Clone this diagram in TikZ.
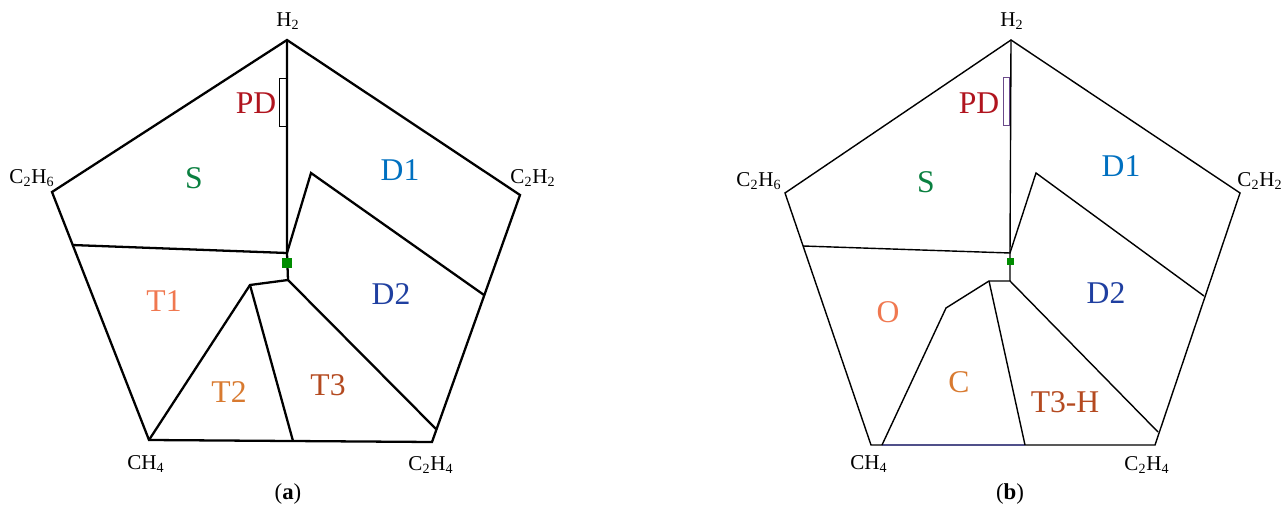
\documentclass[tikz,border=0pt]{standalone}
\usepackage{fontspec}
\setmainfont{Liberation Serif}
\usetikzlibrary{positioning}
\definecolor{pdred}{HTML}{B0141E}
\definecolor{sgreen}{HTML}{0A8040}
\definecolor{dblue}{HTML}{0070C0}
\definecolor{dnavy}{HTML}{1F3FA0}
\definecolor{tsalmon}{HTML}{F07850}
\definecolor{torange}{HTML}{D87A30}
\definecolor{tbrown}{HTML}{B44A20}
\definecolor{coregreen}{HTML}{008C00}
\definecolor{pdpurple}{HTML}{6A4A8A}
\definecolor{baseblue}{HTML}{50508A}
\tikzset{
  edgea/.style={line width=1.3pt, line join=miter},
  edgeb/.style={line width=0.8pt, line join=miter},
  region/.style={font=\fontsize{18}{18}\selectfont, inner sep=0pt},
  gas/.style={font=\fontsize{12}{12}\selectfont, inner sep=0pt},
  caption/.style={font=\fontsize{13}{13}\selectfont, inner sep=0pt},
  pdbox/.style={draw, line width=0.7pt, inner sep=0pt, anchor=north east,
                minimum width=1.4mm, minimum height=9.6mm},
  core/.style={fill=coregreen, draw=none, inner sep=0pt}}
\newcommand{\sub}[1]{\textsubscript{#1}}

\begin{document}
\begin{tikzpicture}[x=0.2mm, y=-0.2mm]
  \useasboundingbox (0,0) rectangle (1288,512);
  % ---- panel (a)
  \coordinate (aH) at (287,40);
  \coordinate (aE) at (52,192);
  \coordinate (aA) at (520,195);
  \coordinate (aM) at (149,440);
  \coordinate (aY) at (432,442);
  \coordinate (aJ) at (287,253);
  \coordinate (aL) at (72,245);
  \coordinate (aK) at (311,173);
  \coordinate (aR) at (484,295);
  \coordinate (aB) at (288,280);
  \coordinate (aP) at (250,285);
  \coordinate (aQ) at (293,441);
  \coordinate (aZ) at (436,429);
  \draw[edgea] (aH) -- (aA) -- (aY) -- (aM) -- (aE) -- cycle;
  \draw[edgea] (aH) -- (aJ) -- (aB);
  \draw[edgea] (aL) -- (aJ) -- (aK) -- (aR);
  \draw[edgea] (aM) -- (aP) -- (aB) -- (aZ);
  \draw[edgea] (aP) -- (aQ);
  \node[core, minimum size=2mm] (acore) at (287,263) {};
  \node[pdbox] (apd) at (287,78) {};
  \node[region, text=pdred] (aPD) at (256,103) {PD};
  \node[region, text=sgreen] (aS) at (194,178) {S};
  \node[region, text=dblue] (aD1) at (400,170) {D1};
  \node[region, text=dnavy] (aD2) at (391,294) {D2};
  \node[region, text=tsalmon] (aT1) at (164,301) {T1};
  \node[region, text=torange] (aT2) at (229,392) {T2};
  \node[region, text=tbrown] (aT3) at (328,385) {T3};
  \node[gas] (aH2) at (288,21) {H\sub{2}};
  \node[gas] (aC2H6) at (32,178) {C\sub{2}H\sub{6}};
  \node[gas] (aC2H2) at (533,178) {C\sub{2}H\sub{2}};
  \node[gas] (aCH4) at (146,464) {CH\sub{4}};
  \node[gas] (aC2H4) at (431,465) {C\sub{2}H\sub{4}};
  \node[caption] (acap) at (288,494) {(\textbf{a})};
  % ---- panel (b)
  \coordinate (bH) at (1011,40);
  \coordinate (bE) at (785,193);
  \coordinate (bA) at (1240,193);
  \coordinate (bM) at (871,445);
  \coordinate (bY) at (1155,445);
  \coordinate (bJ) at (1010,253);
  \coordinate (bL) at (803,246);
  \coordinate (bK) at (1036,173);
  \coordinate (bR) at (1204,296);
  \coordinate (bB) at (1010,281);
  \coordinate (bP) at (989,281);
  \coordinate (bF) at (946,308);
  \coordinate (bG) at (882,445);
  \coordinate (bQ) at (1025,445);
  \coordinate (bZ) at (1158,432);
  \draw[edgeb] (bQ) -- (bY) -- (bA) -- (bH) -- (bE) -- (bM) -- (bG);
  \draw[edgeb, baseblue] (bG) -- (bQ);
  \draw[edgeb] (bH) -- (bJ) -- (bB);
  \draw[edgeb] (bL) -- (bJ) -- (bK) -- (bR);
  \draw[edgeb] (bG) -- (bF) -- (bP) -- (bB) -- (bZ);
  \draw[edgeb] (bP) -- (bQ);
  \node[core, minimum size=1.4mm] (bcore) at (1010,262) {};
  \node[pdbox, draw=pdpurple, minimum width=1.2mm] (bpd) at (1010,77) {};
  \node[region, text=pdred] (bPD) at (979,103) {PD};
  \node[region, text=sgreen] (bS) at (926,182) {S};
  \node[region, text=dblue] (bD1) at (1121,166) {D1};
  \node[region, text=dnavy] (bD2) at (1106,293) {D2};
  \node[region, text=tsalmon] (bO) at (888,312) {O};
  \node[region, text=torange] (bC) at (959,382) {C};
  \node[region, text=tbrown] (bT3H) at (1065,402) {T3-H};
  \node[gas] (bH2) at (1012,21) {H\sub{2}};
  \node[gas] (bC2H6) at (759,181) {C\sub{2}H\sub{6}};
  \node[gas] (bC2H2) at (1260,181) {C\sub{2}H\sub{2}};
  \node[gas] (bCH4) at (869,464) {CH\sub{4}};
  \node[gas] (bC2H4) at (1147,465) {C\sub{2}H\sub{4}};
  \node[caption] (bcap) at (1010,494) {(\textbf{b})};
\end{tikzpicture}
\end{document}
